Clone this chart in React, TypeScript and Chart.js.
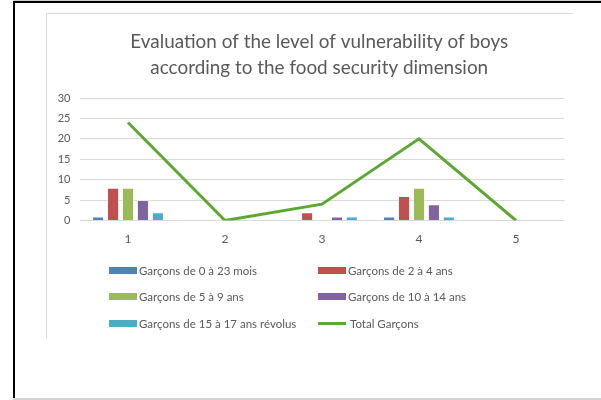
import React, { useEffect, useRef } from "react";
import { Chart, registerables } from "chart.js";

Chart.register(...registerables);

const categories = ["1", "2", "3", "4", "5"];
const seriesNames = [
  "Garçons de 0 à 23 mois",
  "Garçons de 2 à 4 ans",
  "Garçons de 5 à 9 ans",
  "Garçons de 10 à 14 ans",
  "Garçons de 15 à 17 ans révolus",
];
const boys0to23m = [1, 0, 0, 1, 0];
const boys2to4 = [8, 0, 2, 6, 0];
const boys5to9 = [8, 0, 0, 8, 0];
const boys10to14 = [5, 0, 1, 4, 0];
const boys15to17 = [2, 0, 1, 1, 0];
const totalName = "Total Garçons";
const totalBoys = [24, 0, 4, 20, 0];
const titleLines = [
  "Evaluation of the level of vulnerability of boys",
  "according to the food security dimension",
];
const yTicksMin = 0;
const yTicksMax = 30;
const yTicksStep = 5;

const barColors = ["#4F81BD", "#C0504D", "#9BBB59", "#8064A2", "#4BACC6"];
const lineColor = "#5FA635";
const textColor = "#595959";
const FONT = "Lato, 'Open Sans', sans-serif";

const titleShift = {
  id: "titleShift",
  afterLayout(chart: any) {
    const t = chart.titleBlock;
    if (t) {
      t.left += 14;
      t.right += 14;
    }
  },
};

export default function App() {
  const canvasRef = useRef<HTMLCanvasElement | null>(null);

  useEffect(() => {
    const canvas = canvasRef.current;
    if (!canvas) return;
    const barSeries = [boys0to23m, boys2to4, boys5to9, boys10to14, boys15to17];
    const chart = new Chart(canvas, {
      type: "bar",
      data: {
        labels: categories,
        datasets: [
          {
            type: "line",
            label: totalName,
            data: totalBoys,
            borderColor: lineColor,
            backgroundColor: lineColor,
            borderWidth: 3,
            pointRadius: 0,
            tension: 0,
            order: 0,
          } as any,
          ...barSeries.map((d, i) => ({
            type: "bar",
            label: seriesNames[i],
            data: d,
            backgroundColor: barColors[i],
            borderColor: "rgba(255,255,255,0.45)",
            borderWidth: 1,
            categoryPercentage: 0.77,
            barPercentage: 0.81,
            order: 1,
          })),
        ],
      },
      plugins: [titleShift],
      options: {
        responsive: false,
        animation: false,
        devicePixelRatio: 1,
        layout: { padding: { left: 46, right: 36.5, top: 14, bottom: 149.5 } },
        plugins: {
          legend: { display: false },
          tooltip: { enabled: false },
          title: {
            display: true,
            text: titleLines,
            color: textColor,
            font: { family: FONT, size: 18.9, weight: "normal", lineHeight: "26px" } as any,
            padding: { top: 15, bottom: 17 },
          },
        },
        scales: {
          x: {
            grid: { display: false },
            border: { display: false },
            ticks: { color: textColor, font: { family: FONT, size: 12 }, padding: 3 },
            afterFit: (scale: any) => {
              scale.height = 30;
            },
          },
          y: {
            min: yTicksMin,
            max: yTicksMax,
            grid: { color: "#D9D9D9", lineWidth: 1, drawTicks: false },
            border: { display: false },
            ticks: {
              stepSize: yTicksStep,
              color: textColor,
              font: { family: FONT, size: 11 },
              padding: 9,
            },
            afterFit: (scale: any) => {
              scale.width = 33.5;
            },
          },
        },
      },
    } as any);
    return () => chart.destroy();
  }, []);

  const legendItems = [
    { name: seriesNames[0], color: barColors[0], line: false },
    { name: seriesNames[1], color: barColors[1], line: false },
    { name: seriesNames[2], color: barColors[2], line: false },
    { name: seriesNames[3], color: barColors[3], line: false },
    { name: seriesNames[4], color: barColors[4], line: false },
    { name: totalName, color: lineColor, line: true },
  ];
  const colX = [109, 318];
  const rowY = [270, 296.5, 323];

  return (
    <div style={{ position: "absolute", left: 0, top: 0, width: 601, height: 400, background: "#fff", overflow: "hidden" }}>
      {/* outer frame */}
      <div style={{ position: "absolute", left: 13, top: 0, width: 588, height: 1, background: "#cfcfcf" }} />
      <div style={{ position: "absolute", left: 13, top: 1, width: 588, height: 2, background: "#000" }} />
      <div style={{ position: "absolute", left: 13, top: 1, width: 2, height: 399, background: "#000" }} />
      <div style={{ position: "absolute", left: 13, top: 398, width: 588, height: 2, background: "#d4d4d4" }} />
      {/* chart box */}
      <div style={{ position: "absolute", left: 46, top: 13, width: 527, height: 1, background: "#D9D9D9" }} />
      <div style={{ position: "absolute", left: 46, top: 13, width: 1, height: 325, background: "#D9D9D9" }} />
      <canvas ref={canvasRef} width={601} height={400} style={{ position: "absolute", left: 0, top: 0, width: 601, height: 400 }} />
      {legendItems.map((it, i) => {
        const x = colX[i % 2];
        const y = rowY[Math.floor(i / 2)];
        return (
          <div key={i} style={{ position: "absolute", left: x, top: y - 8, height: 16, display: "flex", alignItems: "center", fontFamily: FONT, fontSize: 11.5, color: textColor, whiteSpace: "nowrap" }}>
            <span style={{ display: "inline-block", width: 28, height: it.line ? 3 : 7, background: it.color, marginRight: it.line ? 4 : 2 }} />
            <span>{it.name}</span>
          </div>
        );
      })}
    </div>
  );
}
